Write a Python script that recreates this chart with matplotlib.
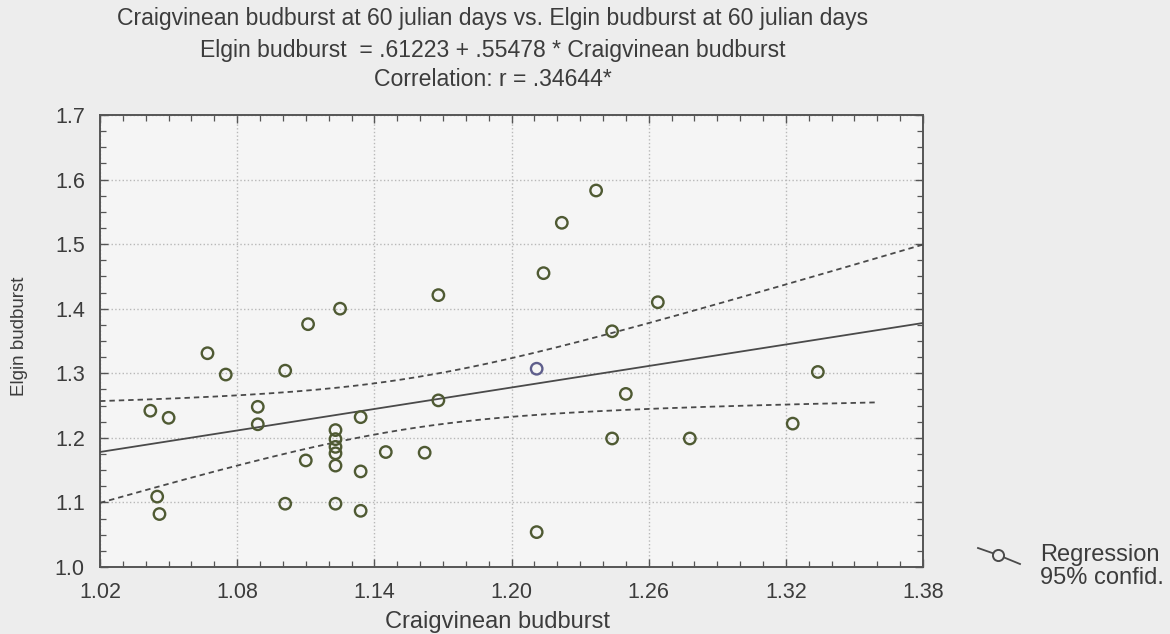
import numpy as np
import matplotlib
matplotlib.use("Agg")
import matplotlib.pyplot as plt
from matplotlib.lines import Line2D
from matplotlib.ticker import MultipleLocator, FormatStrFormatter

plt.rcParams["font.family"] = ["Liberation Sans", "DejaVu Sans"]

# Budburst at 60 julian days, one pair per observation
craigvinean = [
    1.125, 1.111, 1.067, 1.075, 1.101, 1.042, 1.050, 1.089, 1.089, 1.134,
    1.123, 1.123, 1.123, 1.123, 1.123, 1.110, 1.134, 1.145, 1.045, 1.046,
    1.101, 1.123, 1.134, 1.237, 1.222, 1.214, 1.168, 1.264, 1.244, 1.211,
    1.250, 1.168, 1.244, 1.162, 1.211, 1.334, 1.323, 1.278,
]
elgin = [
    1.400, 1.376, 1.331, 1.298, 1.304, 1.242, 1.231, 1.248, 1.221, 1.232,
    1.212, 1.198, 1.186, 1.176, 1.157, 1.165, 1.148, 1.178, 1.109, 1.082,
    1.098, 1.098, 1.087, 1.583, 1.533, 1.455, 1.421, 1.410, 1.365, 1.307,
    1.268, 1.258, 1.199, 1.177, 1.054, 1.302, 1.222, 1.199,
]

# fitted line as reported
intercept = 0.61223
slope = 0.55478
r_value = 0.34644

x_ticks = [1.02, 1.08, 1.14, 1.20, 1.26, 1.32, 1.38]
y_ticks = [1.0, 1.1, 1.2, 1.3, 1.4, 1.5, 1.6, 1.7]

title_lines = [
    "Craigvinean budburst at 60 julian days vs. Elgin budburst at 60 julian days",
    "Elgin budburst  = .61223 + .55478 * Craigvinean budburst",
    "Correlation: r = .34644*",
]

text_col = "#3c3c3c"
point_col = "#4f5a33"
line_col = "#4a4a4a"

x = np.array(craigvinean)
y = np.array(elgin)
n = len(x)

# 95% confidence band around the mean prediction
resid = y - (intercept + slope * x)
s = np.sqrt(np.sum(resid ** 2) / (n - 2))
sxx = np.sum((x - x.mean()) ** 2)
t_crit = 2.028  # t(0.975, 36)

def band(xs):
    fit = intercept + slope * xs
    half = t_crit * s * np.sqrt(1.0 / n + (xs - x.mean()) ** 2 / sxx)
    return fit - half, fit + half

fig = plt.figure(figsize=(11.7, 6.34), dpi=100, facecolor="#ededed")
ax = fig.add_axes([0.0855, 0.1057, 0.7034, 0.713], facecolor="#f5f5f5")

xs_up = np.linspace(1.02, 1.38, 200)
xs_lo = np.linspace(1.02, 1.36, 200)
lo, _ = band(xs_lo)
_, up = band(xs_up)

ax.plot(xs_up, intercept + slope * xs_up, color=line_col, lw=1.3, zorder=3)
ax.plot(xs_up, up, color=line_col, lw=1.3, ls=(0, (3, 2.2)), zorder=3)
ax.plot(xs_lo, lo, color=line_col, lw=1.3, ls=(0, (3, 2.2)), zorder=3)

edge_cols = [point_col] * n
edge_cols[29] = "#5e5e8c"
ax.scatter(x, y, s=68, facecolors="none", edgecolors=edge_cols,
           linewidths=1.7, zorder=4)

ax.set_xlim(1.02, 1.38)
ax.set_ylim(1.0, 1.7)
ax.set_xticks(x_ticks)
ax.set_yticks(y_ticks)
ax.xaxis.set_major_formatter(FormatStrFormatter("%.2f"))
ax.yaxis.set_major_formatter(FormatStrFormatter("%.1f"))
ax.xaxis.set_minor_locator(MultipleLocator(0.01))
ax.yaxis.set_minor_locator(MultipleLocator(0.025))
ax.tick_params(which="both", direction="in", top=True, right=True,
               colors="#555555", labelcolor=text_col, labelsize=15.5)
ax.tick_params(which="major", length=6, width=1.0, pad=11)
ax.tick_params(which="minor", length=4, width=0.9)
ax.grid(True, which="major", color="#b8b8b8", ls=":", lw=1.0)
for sp in ax.spines.values():
    sp.set_color("#555555")
    sp.set_linewidth(1.4)

ax.set_xlabel("Craigvinean budburst", fontsize=17, color=text_col)
ax.xaxis.set_label_coords(0.483, -0.098)
ax.set_ylabel("Elgin budburst", fontsize=13.5, color=text_col)
ax.yaxis.set_label_coords(-0.088, 0.51)

for line, ypix in zip(title_lines, [18, 50, 80]):
    fig.text(0.421, 1 - ypix / 634, line, ha="center", va="center",
             fontsize=16.6, color=text_col)

# legend: regression line with marker, then the band label
fig.add_artist(Line2D([978 / 1170, 998 / 1170, 1020 / 1170],
                      [1 - 548 / 634, 1 - 555 / 634, 1 - 564 / 634],
                      color=line_col, lw=1.3, transform=fig.transFigure))
fig.add_artist(Line2D([998 / 1170], [1 - 555 / 634], marker="o", ms=8,
                      mfc="#ededed", mec=line_col, mew=1.4,
                      transform=fig.transFigure))
fig.text(1040 / 1170, 1 - 555 / 634, "Regression", fontsize=17,
         color=text_col, va="center")
fig.text(1040 / 1170, 1 - 578 / 634, "95% confid.", fontsize=17,
         color=text_col, va="center")

fig.savefig("out.png", dpi=100, facecolor=fig.get_facecolor())
